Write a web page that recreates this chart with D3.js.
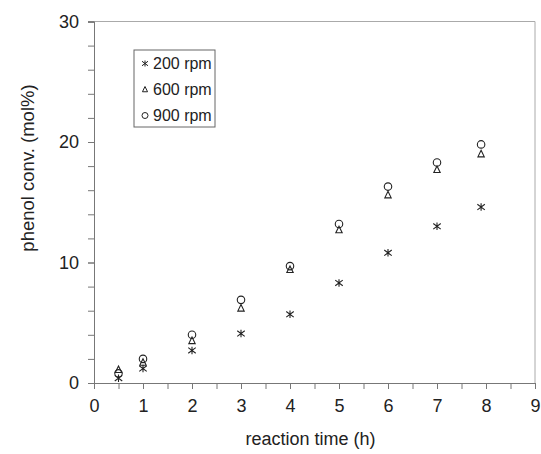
<!DOCTYPE html>
<html>
<head>
<meta charset="utf-8">
<script src="https://cdn.jsdelivr.net/npm/d3@7"></script>
<style>
  body { margin: 0; background: #fff; }
  svg { display: block; font-family: "Liberation Sans", Arial, sans-serif; }
  .axis path, .axis line { stroke: #777; }
  .axis text { fill: #222; font-size: 18px; }
</style>
</head>
<body>
<svg id="chart" width="541" height="454"></svg>
<script>
// reaction time (h)
var times = [0.5, 1, 2, 3, 4, 5, 6, 7, 7.9];
// phenol conversion (mol%) per stirring speed
var conv200 = [0.4, 1.2, 2.7, 4.1, 5.7, 8.3, 10.8, 13.0, 14.6];
var conv600 = [1.1, 1.7, 3.5, 6.2, 9.4, 12.7, 15.6, 17.7, 19.0];
var conv900 = [0.8, 2.0, 4.0, 6.9, 9.7, 13.2, 16.3, 18.3, 19.8];
var seriesNames = ["200 rpm", "600 rpm", "900 rpm"];
var xTicks = [0, 1, 2, 3, 4, 5, 6, 7, 8, 9];
var yTicks = [0, 10, 20, 30];

var svg = d3.select("#chart");
var margin = { top: 21.5, right: 6, bottom: 71, left: 94 };
var width = +svg.attr("width") - margin.left - margin.right;
var height = +svg.attr("height") - margin.top - margin.bottom;

var xScale = d3.scaleLinear().domain([0, 9]).range([0, width]);
var yScale = d3.scaleLinear().domain([0, 30]).range([height, 0]);

var g = svg.append("g")
    .attr("transform", "translate(" + margin.left + "," + margin.top + ")");

// frame top/right
g.append("path")
    .attr("d", "M0,0H" + width + "V" + height)
    .attr("fill", "none")
    .attr("stroke", "#aaa");

// minor ticks
var xAxisMinor = d3.axisBottom(xScale).tickValues(d3.range(0, 9.01, 0.5)).tickSize(6).tickFormat("");
var yAxisMinor = d3.axisLeft(yScale).tickValues(d3.range(0, 30.01, 2)).tickSize(6).tickFormat("");

g.append("g").attr("class", "axis").attr("transform", "translate(0," + height + ")").call(xAxisMinor);
g.append("g").attr("class", "axis").call(yAxisMinor);

var xAxis = d3.axisBottom(xScale).tickValues(xTicks).tickSize(6).tickPadding(10).tickFormat(d3.format("d"));
var yAxis = d3.axisLeft(yScale).tickValues(yTicks).tickSize(6).tickPadding(9).tickFormat(d3.format("d"));

g.append("g").attr("class", "axis axis-x").attr("transform", "translate(0," + height + ")").call(xAxis);
g.append("g").attr("class", "axis axis-y").call(yAxis);

// axis titles
svg.append("text")
    .attr("x", margin.left + width / 2 - 4)
    .attr("y", 445)
    .attr("text-anchor", "middle")
    .attr("fill", "#222")
    .style("font-size", "18px")
    .text("reaction time (h)");

svg.append("text")
    .attr("transform", "translate(34," + 168 + ") rotate(-90)")
    .attr("text-anchor", "middle")
    .attr("fill", "#222")
    .style("font-size", "18.5px")
    .text("phenol conv. (mol%)");

// marker shapes
var asterisk = {
    draw: function (ctx, size) {
        var r = Math.sqrt(size) / 2;
        ctx.moveTo(-r, -r * 0.75); ctx.lineTo(r, r * 0.75);
        ctx.moveTo(-r, r * 0.75); ctx.lineTo(r, -r * 0.75);
        ctx.moveTo(0, -r); ctx.lineTo(0, r);
    }
};
var triangle = {
    draw: function (ctx, size) {
        var r = Math.sqrt(size) / 2;
        ctx.moveTo(0, -r);
        ctx.lineTo(r * 0.85, r * 0.75);
        ctx.lineTo(-r * 0.85, r * 0.75);
        ctx.closePath();
    }
};
var circle = {
    draw: function (ctx, size) {
        var r = Math.sqrt(size) / 2;
        ctx.moveTo(r, 0);
        ctx.arc(0, 0, r, 0, 2 * Math.PI);
    }
};

var series = [
    { name: seriesNames[0], values: conv200, shape: asterisk },
    { name: seriesNames[1], values: conv600, shape: triangle },
    { name: seriesNames[2], values: conv900, shape: circle }
];

series.forEach(function (s) {
    g.selectAll(null)
        .data(s.values)
        .enter().append("path")
        .attr("transform", function (d, i) { return "translate(" + xScale(times[i]) + "," + yScale(d) + ")"; })
        .attr("d", d3.symbol().type(s.shape).size(56))
        .attr("fill", "none")
        .attr("stroke", "#222")
        .attr("stroke-width", 1.1);
});

// legend
var legend = svg.append("g").attr("transform", "translate(134,50)");
legend.append("rect")
    .attr("width", 81).attr("height", 77)
    .attr("fill", "#fff").attr("stroke", "#666");

series.forEach(function (s, i) {
    var row = legend.append("g").attr("transform", "translate(11," + (13.5 + i * 26) + ")");
    row.append("path")
        .attr("d", d3.symbol().type(s.shape).size(36))
        .attr("fill", "none").attr("stroke", "#222").attr("stroke-width", 1);
    row.append("text")
        .attr("x", 8).attr("dy", "0.36em")
        .attr("fill", "#222")
        .style("font-size", "16px")
        .text(s.name);
});
</script>
</body>
</html>
